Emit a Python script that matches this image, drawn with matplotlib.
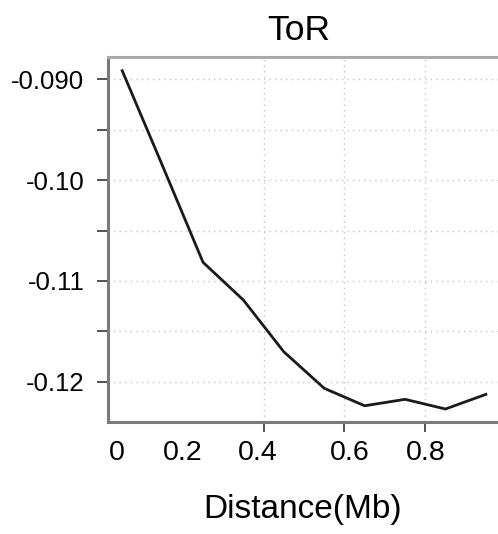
import matplotlib
matplotlib.use("Agg")
import matplotlib.pyplot as plt
from matplotlib.ticker import MultipleLocator, FixedLocator

plt.rcParams['font.family'] = ['Liberation Sans', 'DejaVu Sans']

distance = [0.05, 0.15, 0.25, 0.35, 0.45, 0.55, 0.65, 0.75, 0.85, 0.95]
tor = [-0.08915, -0.0986, -0.10815, -0.1119, -0.11703, -0.12065,
       -0.12238, -0.12174, -0.1227, -0.12125]
x_tick_marks = [0.2, 0.4, 0.6, 0.8]
x_label_pos = [0.037, 0.2, 0.385, 0.612, 0.802]
x_label_text = ["0", "0.2", "0.4", "0.6", "0.8"]
y_ticks = [-0.09, -0.10, -0.11, -0.12]
y_tick_text = ["-0.090", "-0.10", "-0.11", "-0.12"]

fig = plt.figure(figsize=(4.98, 5.34), dpi=100)
ax = fig.add_axes([0.217, 0.2103, 0.783, 0.6835])

ax.plot(distance, tor, color="#1a1a1a", lw=2.0)

ax.set_xlim(0.015, 0.98)
ax.set_ylim(-0.12396, -0.08776)

ax.set_yticks(y_ticks)
ax.set_yticklabels(y_tick_text)
ax.yaxis.set_minor_locator(MultipleLocator(0.005))

ax.xaxis.set_minor_locator(FixedLocator(x_tick_marks))
ax.set_xticks(x_label_pos)
ax.set_xticklabels(x_label_text)

ax.tick_params(axis="y", which="both", length=8, width=1.3, color="#444444",
               labelsize=18.5, pad=9)
ax.tick_params(axis="x", which="major", length=0, labelsize=20.5, pad=13)
ax.tick_params(axis="x", which="minor", length=7, width=1.3, color="#444444")

ax.grid(False)
ax.grid(True, axis="x", which="minor", ls=(0, (1, 3)), color="#c4c4c4", lw=1.0)
ax.grid(True, axis="y", which="both", ls=(0, (1, 3)), color="#c4c4c4", lw=1.0)
ax.set_axisbelow(True)

for side in ["left", "bottom", "top"]:
    ax.spines[side].set_linewidth(2.2)
ax.spines["left"].set_color("#7a7a7a")
ax.spines["bottom"].set_color("#7a7a7a")
ax.spines["top"].set_color("#aaaaaa")
ax.spines["right"].set_visible(False)

ax.set_title("ToR", fontsize=25.5, pad=12, x=0.49)
ax.set_xlabel("Distance(Mb)", fontsize=24, labelpad=20)

fig.savefig("out.png", dpi=100)
